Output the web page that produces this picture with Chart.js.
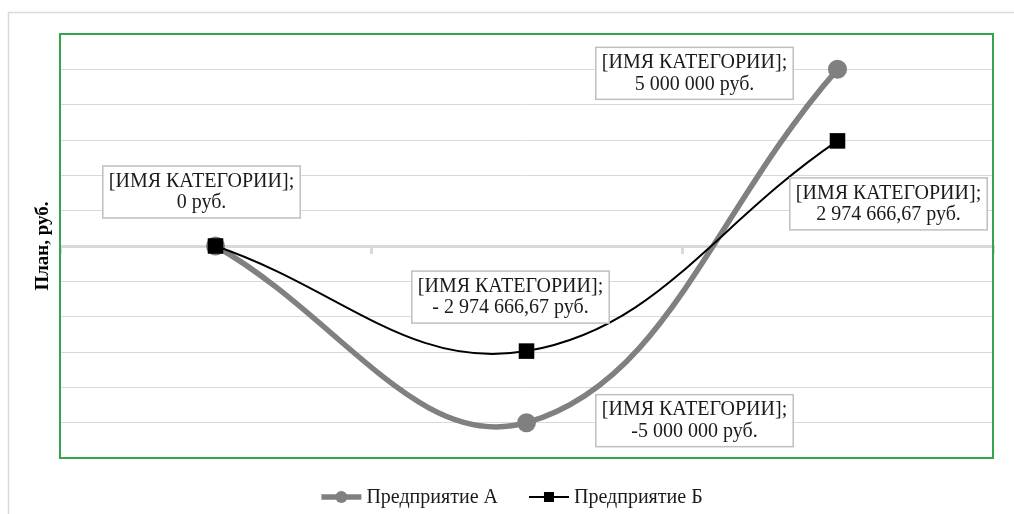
<!DOCTYPE html>
<html>
<head>
<meta charset="utf-8">
<script src="https://cdn.jsdelivr.net/npm/chart.js@4.4.0/dist/chart.umd.min.js"></script>
<style>
    html, body { margin: 0; padding: 0; background: #fff; }
    #wrap { width: 1014px; height: 514px; }
</style>
</head>
<body>
<div id="wrap"><canvas id="myChart"></canvas></div>
<script>
//categories and values
const categories = ['[ИМЯ КАТЕГОРИИ]', '[ИМЯ КАТЕГОРИИ]', '[ИМЯ КАТЕГОРИИ]'];
const seriesNames = ['Предприятие А', 'Предприятие Б'];
const valuesA = [0, -5000000, 5000000];
const valuesB = [0, -2974666.67, 2974666.67];
const yMin = -6000000;
const yMax = 6000000;
const yStep = 1000000;

//where each data label box sits, relative to its point (null = no label)
const labelSpotsA = [[-14, -54], [168, -2], [-143, 4]];
const labelSpotsB = [null, [-16, -54], [51, 63]];

const serif = '"Liberation Serif", "Times New Roman", serif';

function rub(v, decimals, negSpace) {
    let s = Math.abs(v).toFixed(decimals);
    let [whole, frac] = s.split('.');
    whole = whole.replace(/\B(?=(\d{3})+(?!\d))/g, ' ');
    s = frac ? whole + ',' + frac : whole;
    if (v < 0) s = (negSpace ? '- ' : '-') + s;
    return s + ' руб.';
}

const decor = {
    id: 'decor',
    beforeDraw(chart) {
        const ctx = chart.ctx;
        ctx.save();
        ctx.strokeStyle = '#d9d9d9';
        ctx.lineWidth = 1.5;
        ctx.beginPath();
        ctx.moveTo(8.5, chart.height + 5);
        ctx.lineTo(8.5, 12.5);
        ctx.lineTo(chart.width + 5, 12.5);
        ctx.stroke();
        ctx.restore();
    },
    afterDatasetsDraw(chart) {
        const ctx = chart.ctx;
        const a = chart.chartArea;
        ctx.save();
        ctx.strokeStyle = '#33a64c';
        ctx.lineWidth = 2;
        ctx.strokeRect(a.left, a.top, a.right - a.left, a.bottom - a.top);

        ctx.font = '20px ' + serif;
        ctx.textAlign = 'center';
        ctx.textBaseline = 'middle';
        chart.data.datasets.forEach((ds, di) => {
            const meta = chart.getDatasetMeta(di);
            ds.labelSpots.forEach((spot, i) => {
                if (!spot) return;
                const p = meta.data[i];
                const lines = [categories[i] + ';', rub(ds.data[i], ds.decimals, ds.negSpace)];
                const w = Math.max(...lines.map(l => ctx.measureText(l).width)) + 12;
                const h = 52;
                const cx = p.x + spot[0];
                const cy = p.y + spot[1];
                ctx.fillStyle = '#fff';
                ctx.fillRect(cx - w / 2, cy - h / 2, w, h);
                ctx.strokeStyle = '#bfbfbf';
                ctx.lineWidth = 1.5;
                ctx.strokeRect(cx - w / 2, cy - h / 2, w, h);
                ctx.fillStyle = '#1a1a1a';
                ctx.fillText(lines[0], cx, cy - 10.5);
                ctx.fillText(lines[1], cx, cy + 11);
            });
        });
        ctx.restore();
    },
    afterDraw(chart) {
        //legend: line + marker + name, centred under the plot
        const ctx = chart.ctx;
        ctx.save();
        ctx.font = '20px ' + serif;
        ctx.textBaseline = 'middle';
        const y = 497;
        const lineLen = 40, gap = 5, itemGap = 31;
        const items = chart.data.datasets.map(ds => ({ ds, tw: ctx.measureText(ds.label).width }));
        const total = items.reduce((s, it) => s + lineLen + gap + it.tw, 0) + itemGap * (items.length - 1);
        let x = 512 - total / 2;
        items.forEach(({ ds, tw }) => {
            ctx.strokeStyle = ds.borderColor;
            ctx.lineWidth = ds.borderWidth;
            ctx.beginPath();
            ctx.moveTo(x, y);
            ctx.lineTo(x + lineLen, y);
            ctx.stroke();
            ctx.fillStyle = ds.pointBackgroundColor;
            if (ds.pointStyle === 'circle') {
                ctx.beginPath();
                ctx.arc(x + lineLen / 2, y, 6, 0, Math.PI * 2);
                ctx.fill();
            } else {
                ctx.fillRect(x + lineLen / 2 - 5, y - 5, 10, 10);
            }
            ctx.fillStyle = '#1a1a1a';
            ctx.fillText(ds.label, x + lineLen + gap, y + 1);
            x += lineLen + gap + tw + itemGap;
        });
        ctx.restore();
    }
};

const ctx = document.getElementById('myChart');
const myChart = new Chart(ctx, {
    type: 'line',
    data: {
        labels: categories,
        datasets: [{
            label: seriesNames[0],
            data: valuesA,
            borderColor: '#808080',
            backgroundColor: '#808080',
            pointBackgroundColor: '#808080',
            pointBorderWidth: 0,
            borderWidth: 5.5,
            pointStyle: 'circle',
            pointRadius: 9.5,
            tension: 0.4,
            order: 1,
            decimals: 0,
            negSpace: false,
            labelSpots: labelSpotsA
        },
        {
            label: seriesNames[1],
            data: valuesB,
            borderColor: '#000000',
            backgroundColor: '#000000',
            pointBackgroundColor: '#000000',
            pointBorderWidth: 0,
            borderWidth: 2,
            pointStyle: 'rect',
            pointRadius: 11,
            tension: 0.4,
            order: 0,
            decimals: 2,
            negSpace: true,
            labelSpots: labelSpotsB
        }]
    },
    options: {
        responsive: true,
        maintainAspectRatio: false,
        animation: false,
        layout: { padding: { left: 28, top: 34, right: 21, bottom: 56 } },
        plugins: {
            legend: { display: false },
            tooltip: { enabled: false }
        },
        scales: {
            x: {
                type: 'category',
                offset: true,
                position: { y: 0 },
                ticks: { display: false },
                grid: { drawOnChartArea: false, drawTicks: true, tickLength: 6, color: '#d9d9d9', lineWidth: 3, offset: true },
                border: { display: true, color: '#d9d9d9', width: 3 },
                afterFit: s => { s.height = 0; }
            },
            y: {
                min: yMin,
                max: yMax,
                ticks: { display: false, stepSize: yStep },
                grid: { color: '#d9d9d9', lineWidth: 1, drawTicks: false },
                border: { display: false },
                title: {
                    display: true,
                    text: 'План, руб.',
                    color: '#000',
                    font: { family: serif, size: 19, weight: 'bold' },
                    padding: 4
                },
                afterFit: s => { s.width = 32; }
            }
        }
    },
    plugins: [decor]
});
</script>
</body>
</html>
